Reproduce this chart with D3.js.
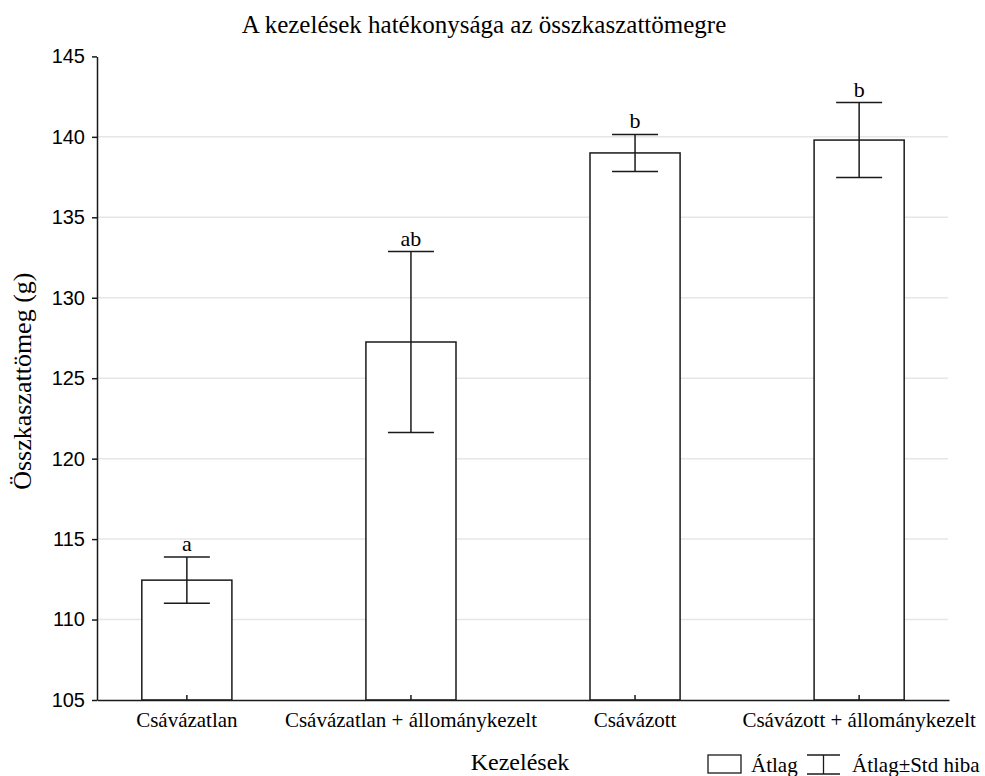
<!DOCTYPE html>
<html>
<head>
<meta charset="utf-8">
<script src="https://cdn.jsdelivr.net/npm/d3@7"></script>
<style>
  html, body { margin: 0; padding: 0; background: #fff; }
  svg { display: block; }
</style>
</head>
<body>
<svg id="chart" width="985" height="776"></svg>
<script>
// Treatments, group means, standard errors and significance letters
const categories = ["Csávázatlan", "Csávázatlan + állománykezelt", "Csávázott", "Csávázott + állománykezelt"];
const means = [112.45, 127.25, 139.0, 139.8];
const stdErrors = [1.43, 5.62, 1.15, 2.33];
const groupLetters = ["a", "ab", "b", "b"];
const yTicks = [105, 110, 115, 120, 125, 130, 135, 140, 145];

const svg = d3.select("#chart");
const ink = "#1a1a1a";
const serif = "'Liberation Serif', 'Times New Roman', serif";
const sans = "'Liberation Sans', Arial, sans-serif";

const plotLeft = 97, plotRight = 949, plotTop = 56.4, plotBottom = 700;

const x = d3.scaleBand()
  .domain(categories)
  .range([plotLeft, plotRight])
  .paddingInner(0.598)
  .paddingOuter(0.2);

const y = d3.scaleLinear().domain([105, 145]).range([plotBottom, plotTop]);

// Horizontal grid lines
svg.append("g")
  .selectAll("line")
  .data(yTicks.filter(t => t > 105 && t < 145))
  .join("line")
  .attr("x1", plotLeft).attr("x2", plotRight - 1)
  .attr("y1", d => y(d)).attr("y2", d => y(d))
  .attr("stroke", "#e6e6e6").attr("stroke-width", 1.5);

// Bars (means)
const data = categories.map((c, i) => ({ c, m: means[i], se: stdErrors[i], g: groupLetters[i] }));

svg.append("g")
  .selectAll("rect")
  .data(data)
  .join("rect")
  .attr("x", d => x(d.c))
  .attr("y", d => y(d.m))
  .attr("width", x.bandwidth())
  .attr("height", d => plotBottom - y(d.m))
  .attr("fill", "#fff")
  .attr("stroke", ink).attr("stroke-width", 1.5);

// Error bars (mean ± standard error)
const capHalf = 23;
const eb = svg.append("g").attr("stroke", ink).attr("stroke-width", 1.5);
data.forEach(d => {
  const cx = x(d.c) + x.bandwidth() / 2;
  eb.append("line").attr("x1", cx).attr("x2", cx).attr("y1", y(d.m + d.se)).attr("y2", y(d.m - d.se));
  eb.append("line").attr("x1", cx - capHalf).attr("x2", cx + capHalf).attr("y1", y(d.m + d.se)).attr("y2", y(d.m + d.se));
  eb.append("line").attr("x1", cx - capHalf).attr("x2", cx + capHalf).attr("y1", y(d.m - d.se)).attr("y2", y(d.m - d.se));
});

// Significance letters above the error bars
svg.append("g")
  .selectAll("text")
  .data(data)
  .join("text")
  .attr("x", d => x(d.c) + x.bandwidth() / 2)
  .attr("y", d => y(d.m + d.se) - 6)
  .attr("text-anchor", "middle")
  .attr("font-family", serif).attr("font-size", 22)
  .attr("fill", "#000")
  .text(d => d.g);

// Y axis
const yAxis = svg.append("g")
  .attr("transform", `translate(${plotLeft},0)`)
  .call(d3.axisLeft(y).tickValues(yTicks).tickSize(5).tickSizeOuter(0).tickFormat(d3.format("d")));
yAxis.select(".domain").attr("stroke", ink).attr("stroke-width", 1.5);
yAxis.selectAll(".tick line").attr("stroke", ink).attr("stroke-width", 1.5);
yAxis.selectAll(".tick text")
  .attr("font-family", sans).attr("font-size", 20).attr("fill", "#000").attr("x", -12);

// X axis with inward ticks at bar centers
const xAxis = svg.append("g")
  .attr("transform", `translate(0,${plotBottom})`)
  .call(d3.axisBottom(x).tickSize(-5).tickSizeOuter(0));
xAxis.select(".domain").attr("stroke", ink).attr("stroke-width", 1.5);
xAxis.selectAll(".tick line").attr("stroke", ink).attr("stroke-width", 1.5);
xAxis.selectAll(".tick text")
  .attr("font-family", serif).attr("font-size", 21).attr("fill", "#000").attr("y", 12);

// Titles
svg.append("text")
  .attr("x", 484).attr("y", 33)
  .attr("text-anchor", "middle")
  .attr("font-family", serif).attr("font-size", 25).attr("fill", "#000")
  .text("A kezelések hatékonysága az összkaszattömegre");

svg.append("text")
  .attr("x", 520).attr("y", 770)
  .attr("text-anchor", "middle")
  .attr("font-family", serif).attr("font-size", 24).attr("fill", "#000")
  .text("Kezelések");

svg.append("text")
  .attr("transform", `translate(31,${(plotTop + plotBottom) / 2 + 3}) rotate(-90)`)
  .attr("text-anchor", "middle")
  .attr("font-family", serif).attr("font-size", 26).attr("fill", "#000")
  .text("Összkaszattömeg (g)");

// Legend
const lg = svg.append("g").attr("font-family", serif).attr("font-size", 21).attr("fill", "#000");
lg.append("rect").attr("x", 708).attr("y", 755).attr("width", 33).attr("height", 18)
  .attr("fill", "#fff").attr("stroke", ink).attr("stroke-width", 1.3);
lg.append("text").attr("x", 751).attr("y", 772).text("Átlag");
const sym = lg.append("g").attr("stroke", ink).attr("stroke-width", 1.3);
sym.append("line").attr("x1", 807).attr("x2", 840).attr("y1", 755).attr("y2", 755);
sym.append("line").attr("x1", 807).attr("x2", 840).attr("y1", 774).attr("y2", 774);
sym.append("line").attr("x1", 823.5).attr("x2", 823.5).attr("y1", 755).attr("y2", 774);
lg.append("text").attr("x", 852).attr("y", 772).text("Átlag±Std hiba");
</script>
</body>
</html>
